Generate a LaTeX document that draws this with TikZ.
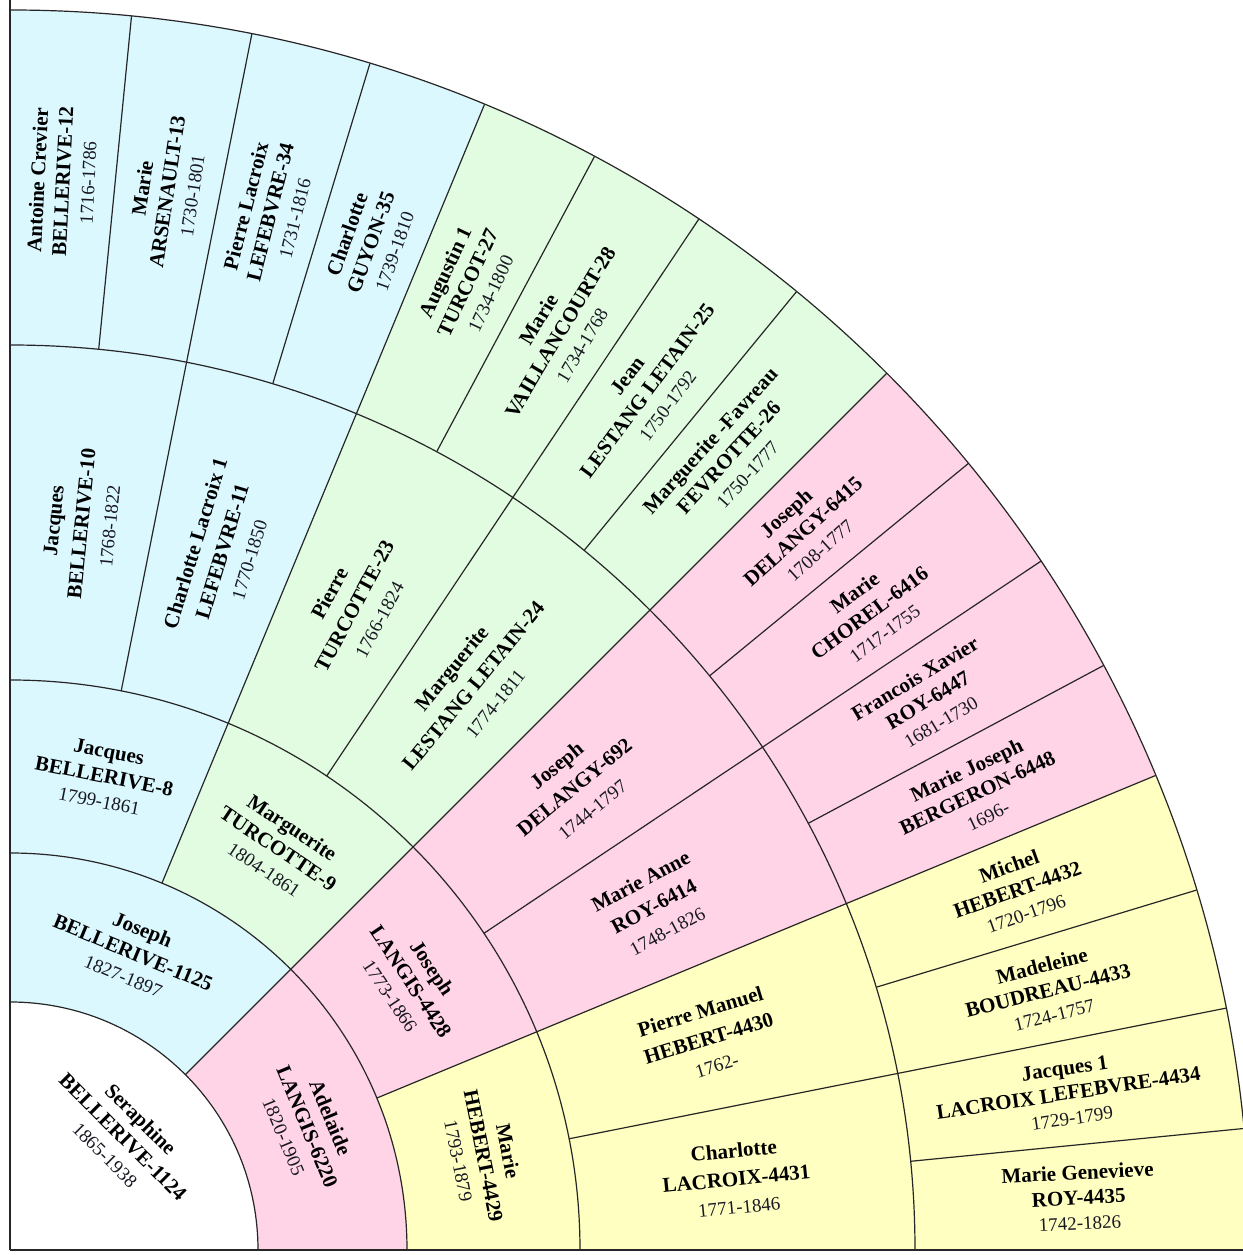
\documentclass[tikz,border=0pt]{standalone}
\usepackage{xcolor}
\usepackage{fontspec}
\setmainfont{Liberation Serif}
\usepackage{tikz}
\definecolor{blueside}{HTML}{DCF8FF}
\definecolor{greenside}{HTML}{E2FCE2}
\definecolor{pinkside}{HTML}{FFD4E6}
\definecolor{yellowside}{HTML}{FFFFC2}
\definecolor{datetext}{HTML}{181822}
\newcommand{\lifespan}[1]{{\mdseries\color{datetext}\fontsize{9.5}{11}\selectfont #1}}

\begin{document}
\begin{tikzpicture}[
    x=0.5pt, y=0.5pt,
    person/.style={align=center, inner sep=0pt, font=\bfseries\fontsize{10.5}{12.5}\selectfont},
    loose/.style={person, font=\bfseries\fontsize{10.5}{14}\selectfont},
    ring/.style={draw=black!85, line width=0.6pt}
]
\useasboundingbox (-10,-5) rectangle (1233,1250);
\clip (-10,-5) rectangle (1233,1250);
% sector fills
\fill[blueside] (45:248) arc (45:90:248) -- (90:397) arc (90:45:397) -- cycle;
\fill[pinkside] (0:248) arc (0:45:248) -- (45:397) arc (45:0:397) -- cycle;
\fill[blueside] (67.5:397) arc (67.5:90:397) -- (90:1240) arc (90:67.5:1240) -- cycle;
\fill[greenside] (45:397) arc (45:67.5:397) -- (67.5:1240) arc (67.5:45:1240) -- cycle;
\fill[pinkside] (22.5:397) arc (22.5:45:397) -- (45:1240) arc (45:22.5:1240) -- cycle;
\fill[yellowside] (0:397) arc (0:22.5:397) -- (22.5:1240) arc (22.5:0:1240) -- cycle;
% rings and dividers
\draw[ring] (0,0) -- (0:1250) (0,0) -- (90:1250);
\foreach \r in {248,397,570,905,1240} \draw[ring] (0:\r) arc (0:90:\r);
\draw[ring] (45:248) -- (45:1240);
\foreach \a in {22.5,67.5} \draw[ring] (\a:397) -- (\a:1240);
\foreach \a in {11.25,33.75,56.25,78.75} \draw[ring] (\a:570) -- (\a:1240);
\foreach \a in {5.625,16.875,28.125,39.375,50.625,61.875,73.125,84.375} \draw[ring] (\a:905) -- (\a:1240);

% root
\node[person, rotate=-45] (p1124) at (45:160) {Seraphine\\BELLERIVE-1124\\\lifespan{1865-1938}};
% parents
\node[person, rotate=-22.5] (p1125) at (67.5:322) {Joseph\\BELLERIVE-1125\\\lifespan{1827-1897}};
\node[person, rotate=-67.5] (p6220) at (22.5:322) {Adelaide\\LANGIS-6220\\\lifespan{1820-1905}};
% grandparents
\node[person, rotate=-11.25] (p8) at (78.75:483) {Jacques\\BELLERIVE-8\\\lifespan{1799-1861}};
\node[person, rotate=-33.75] (p9) at (56.25:483) {Marguerite\\TURCOTTE-9\\\lifespan{1804-1861}};
\node[person, rotate=-56.25] (p4428) at (33.75:483) {Joseph\\LANGIS-4428\\\lifespan{1773-1866}};
\node[person, rotate=-78.75] (p4429) at (11.25:483) {Marie\\HEBERT-4429\\\lifespan{1793-1879}};
% great-grandparents
\node[loose, rotate=84.375] (p10) at (84.375:730) {Jacques\\BELLERIVE-10\\\lifespan{1768-1822}};
\node[loose, rotate=73.125] (p11) at (73.125:730) {Charlotte Lacroix 1\\LEFEBVRE-11\\\lifespan{1770-1850}};
\node[loose, rotate=61.875] (p23) at (61.875:730) {Pierre\\TURCOTTE-23\\\lifespan{1766-1824}};
\node[loose, rotate=50.625] (p24) at (50.625:730) {Marguerite\\LESTANG LETAIN-24\\\lifespan{1774-1811}};
\node[loose, rotate=39.375] (p692) at (39.375:730) {Joseph\\DELANGY-692\\\lifespan{1744-1797}};
\node[loose, rotate=28.125] (p6414) at (28.125:730) {Marie Anne\\ROY-6414\\\lifespan{1748-1826}};
\node[loose, rotate=16.875] (p4430) at (16.875:730) {Pierre Manuel\\HEBERT-4430\\\lifespan{1762-}};
\node[loose, rotate=5.625] (p4431) at (5.625:730) {Charlotte\\LACROIX-4431\\\lifespan{1771-1846}};
% great-great-grandparents
\node[person, rotate=87.1875] (p12) at (87.1875:1070) {Antoine Crevier\\BELLERIVE-12\\\lifespan{1716-1786}};
\node[person, rotate=81.5625] (p13) at (81.5625:1070) {Marie\\ARSENAULT-13\\\lifespan{1730-1801}};
\node[person, rotate=75.9375] (p34) at (75.9375:1070) {Pierre Lacroix\\LEFEBVRE-34\\\lifespan{1731-1816}};
\node[person, rotate=70.3125] (p35) at (70.3125:1070) {Charlotte\\GUYON-35\\\lifespan{1739-1810}};
\node[person, rotate=64.6875] (p27) at (64.6875:1070) {Augustin 1\\TURCOT-27\\\lifespan{1734-1800}};
\node[person, rotate=59.0625] (p28) at (59.0625:1070) {Marie\\VAILLANCOURT-28\\\lifespan{1734-1768}};
\node[person, rotate=53.4375] (p25) at (53.4375:1070) {Jean\\LESTANG LETAIN-25\\\lifespan{1750-1792}};
\node[person, rotate=47.8125] (p26) at (47.8125:1070) {Marguerite -Favreau\\FEVROTTE-26\\\lifespan{1750-1777}};
\node[person, rotate=42.1875] (p6415) at (42.1875:1070) {Joseph\\DELANGY-6415\\\lifespan{1708-1777}};
\node[person, rotate=36.5625] (p6416) at (36.5625:1070) {Marie\\CHOREL-6416\\\lifespan{1717-1755}};
\node[person, rotate=30.9375] (p6447) at (30.9375:1070) {Francois Xavier\\ROY-6447\\\lifespan{1681-1730}};
\node[person, rotate=25.3125] (p6448) at (25.3125:1070) {Marie Joseph\\BERGERON-6448\\\lifespan{1696-}};
\node[person, rotate=19.6875] (p4432) at (19.6875:1070) {Michel\\HEBERT-4432\\\lifespan{1720-1796}};
\node[person, rotate=14.0625] (p4433) at (14.0625:1070) {Madeleine\\BOUDREAU-4433\\\lifespan{1724-1757}};
\node[person, rotate=8.4375] (p4434) at (8.4375:1070) {Jacques 1\\LACROIX LEFEBVRE-4434\\\lifespan{1729-1799}};
\node[person, rotate=2.8125] (p4435) at (2.8125:1070) {Marie Genevieve\\ROY-4435\\\lifespan{1742-1826}};
\end{tikzpicture}
\end{document}
